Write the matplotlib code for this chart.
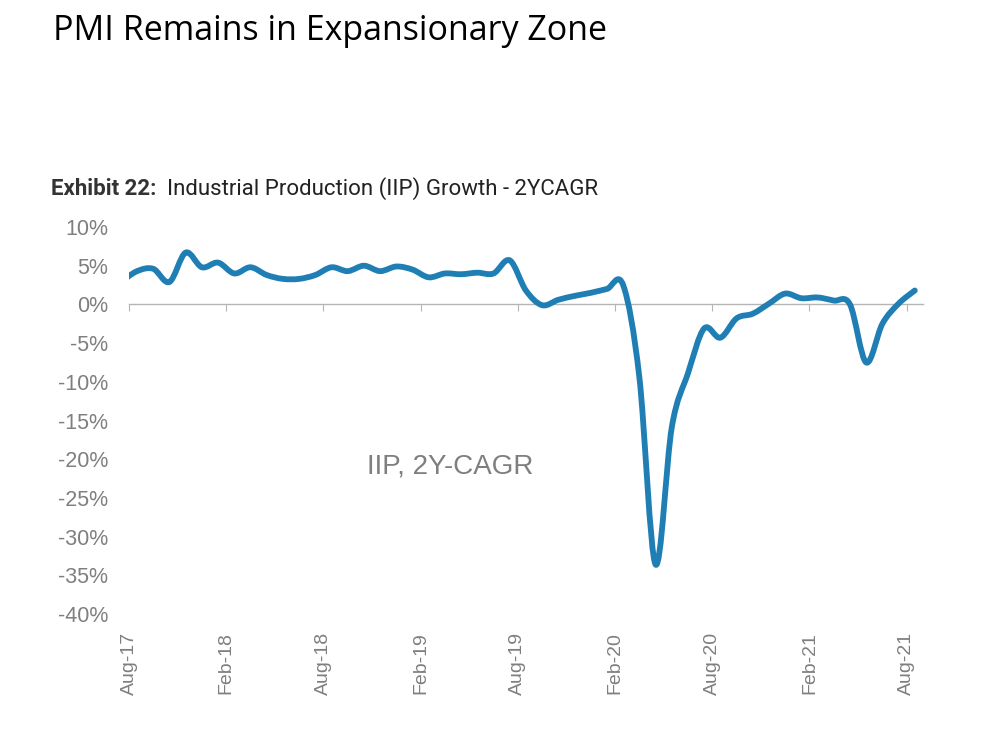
import numpy as np
import matplotlib
matplotlib.use("Agg")
import matplotlib.pyplot as plt
from matplotlib.path import Path
from matplotlib.patches import PathPatch

# monthly IIP 2Y CAGR (%), Jul-17 .. Aug-21
months = ['Jul-17', 'Aug-17', 'Sep-17', 'Oct-17', 'Nov-17', 'Dec-17', 'Jan-18', 'Feb-18',
          'Mar-18', 'Apr-18', 'May-18', 'Jun-18', 'Jul-18', 'Aug-18', 'Sep-18', 'Oct-18',
          'Nov-18', 'Dec-18', 'Jan-19', 'Feb-19', 'Mar-19', 'Apr-19', 'May-19', 'Jun-19',
          'Jul-19', 'Aug-19', 'Sep-19', 'Oct-19', 'Nov-19', 'Dec-19', 'Jan-20', 'Feb-20',
          'Mar-20', 'Apr-20', 'May-20', 'Jun-20', 'Jul-20', 'Aug-20', 'Sep-20', 'Oct-20',
          'Nov-20', 'Dec-20', 'Jan-21', 'Feb-21', 'Mar-21', 'Apr-21', 'May-21', 'Jun-21',
          'Jul-21', 'Aug-21']
iip_cagr = [2.9, 4.3, 4.6, 2.9, 6.7, 4.8, 5.4, 4.0, 4.8, 3.8,
            3.3, 3.3, 3.8, 4.8, 4.3, 5.0, 4.3, 4.9, 4.5, 3.5,
            4.0, 3.9, 4.1, 4.0, 5.7, 1.8, -0.1, 0.6, 1.1, 1.5,
            2.0, 2.5, -9.4, -33.6, -15.9, -8.9, -3.1, -4.3, -1.8, -1.2,
            0.1, 1.4, 0.8, 0.9, 0.5, 0.0, -7.5, -2.5, 0.1, 1.8]
tick_labels = ['Aug-17', 'Feb-18', 'Aug-18', 'Feb-19', 'Aug-19',
               'Feb-20', 'Aug-20', 'Feb-21', 'Aug-21']

blue = '#1f7fb4'
grey = '#7f7f7f'

fig = plt.figure(figsize=(9.86, 7.5), dpi=100)
ax = fig.add_axes([0.1308, 0.1813, 0.8052, 0.516])

# points sit in the middle of each month slot (Aug-17 slot = [0, 1))
x = np.arange(len(iip_cagr)) - 0.5
y = np.array(iip_cagr)

# smoothed line, Bezier segments like a spreadsheet "smoothed line"
pts = np.column_stack([x, y])
verts = [pts[0]]
codes = [Path.MOVETO]
n = len(pts)
for i in range(n - 1):
    p0 = pts[max(i - 1, 0)]
    p1 = pts[i]
    p2 = pts[i + 1]
    p3 = pts[min(i + 2, n - 1)]
    c1 = p1 + (p2 - p0) / 6
    c2 = p2 - (p3 - p1) / 6
    verts += [c1, c2, p2]
    codes += [Path.CURVE4] * 3
patch = PathPatch(Path(verts, codes), facecolor='none', edgecolor=blue,
                  lw=4.2, capstyle='round', joinstyle='round', zorder=3)
ax.add_patch(patch)

ax.set_xlim(0, 49)
ax.set_ylim(-40, 10)

for s in ['top', 'right', 'left']:
    ax.spines[s].set_visible(False)
ax.spines['bottom'].set_position(('data', 0))
ax.spines['bottom'].set_color('#b5b5b5')
ax.spines['bottom'].set_linewidth(1)

ax.set_xticks(np.arange(0, 49, 6))
ax.tick_params(axis='x', direction='out', length=5, color='#b5b5b5',
               labelbottom=False)

sec = ax.secondary_xaxis(0.0)
sec.set_xticks(np.arange(0, 49, 6))
sec.set_xticklabels(tick_labels, rotation=90, color=grey,
                    family='Liberation Sans', fontsize=14)
sec.tick_params(length=0, pad=13)
sec.spines['bottom'].set_visible(False)

yt = np.arange(-40, 11, 5)
ax.set_yticks(yt)
ax.set_yticklabels([f'{v}%' for v in yt], color=grey,
                   family='Liberation Sans', fontsize=15.5)
ax.tick_params(axis='y', length=0, pad=15)

ax.text(19.85, -20.9, 'IIP, 2Y-CAGR', color=grey, fontsize=20,
        family='Liberation Sans', ha='center', va='center')

fig.text(53 / 986, 1 - 31 / 750, 'PMI Remains in Expansionary Zone',
         fontsize=24.5, family='Open Sans', color='black', va='center')
fig.text(51 / 986, 1 - 189 / 750, 'Exhibit 22:', fontsize=16,
         family='Roboto', weight='bold', color='#333333', va='center')
fig.text(167 / 986, 1 - 189 / 750, 'Industrial Production (IIP) Growth - 2YCAGR',
         fontsize=16, family='Roboto', color='#222222', va='center')

fig.savefig('out.png', dpi=100, facecolor='white')
